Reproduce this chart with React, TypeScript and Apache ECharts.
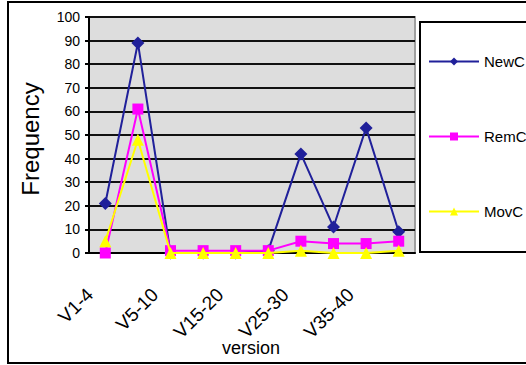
import React, { useEffect, useRef } from "react";
import * as echarts from "echarts";

const categories = ["V1-4", "V4-5", "V5-10", "V10-15", "V15-20", "V20-25", "V25-30", "V30-35", "V35-40", "V40-45"];
const newC = [21, 89, 0, 0, 0, 1, 42, 11, 53, 9];
const remC = [0, 61, 1, 1, 1, 1, 5, 4, 4, 5];
const movC = [5, 48, 0, 0, 0, 0, 1, 0, 0, 1];
const xTitle = "version";
const yTitle = "Frequency";

const FONT = "'Liberation Sans', Arial, sans-serif";

export default function App() {
  const ref = useRef<HTMLDivElement>(null);
  useEffect(() => {
    if (!ref.current) return;
    const chart = echarts.init(ref.current, null, { renderer: "svg" });
    chart.setOption({
      animation: false,
      textStyle: { fontFamily: FONT, color: "#000" },
      graphic: [
        {
          type: "rect",
          shape: { x: 8, y: 2, width: 600, height: 361 },
          style: { fill: "none", stroke: "#000", lineWidth: 2 },
          z: 100,
        },
        {
          type: "rect",
          shape: { x: 420, y: 22, width: 200, height: 230 },
          style: { fill: "#fff", stroke: "#000", lineWidth: 2 },
          z: 0,
        },
        {
          type: "text",
          x: 251,
          y: 348,
          style: {
            text: xTitle,
            fontSize: 18,
            fontFamily: FONT,
            fill: "#000",
            textAlign: "center",
            textVerticalAlign: "middle",
          },
          z: 50,
        },
        {
          type: "text",
          x: 30,
          y: 139,
          rotation: Math.PI / 2,
          style: {
            text: yTitle,
            fontSize: 24,
            fontFamily: FONT,
            fill: "#000",
            textAlign: "center",
            textVerticalAlign: "middle",
          },
          z: 50,
        },
      ],
      legend: {
        orient: "vertical",
        left: 428,
        top: 54,
        padding: 0,
        itemWidth: 50,
        itemHeight: 10,
        itemGap: 60,
        textStyle: { fontSize: 15, color: "#000", fontFamily: FONT },
        data: ["NewC", "RemC", "MovC"],
        z: 10,
      },
      grid: {
        left: 89,
        top: 17,
        right: 111,
        bottom: 112,
        show: true,
        containLabel: false,
        outerBoundsMode: "none",
        backgroundColor: "#DDDDDD",
        borderColor: "#A0A0A0",
        borderWidth: 2,
      },
      xAxis: {
        type: "category",
        data: categories,
        boundaryGap: true,
        axisLine: { lineStyle: { color: "#000", width: 2 } },
        axisTick: { interval: 0, length: 5, lineStyle: { color: "#000", width: 2 } },
        axisLabel: {
          interval: 1,
          rotate: 45,
          fontSize: 19,
          color: "#000",
          margin: 23,
          padding: [0, 22, 0, 0],
          fontFamily: FONT,
        },
        splitLine: { show: false },
      },
      yAxis: {
        type: "value",
        min: 0,
        max: 100,
        interval: 10,
        axisLine: { show: true, lineStyle: { color: "#000", width: 2 } },
        axisTick: { show: true, length: 4, lineStyle: { color: "#000", width: 2 } },
        axisLabel: { fontSize: 14, color: "#000", margin: 9, fontFamily: FONT },
        splitLine: { show: true, lineStyle: { color: "#111", width: 2 } },
      },
      series: [
        {
          name: "NewC",
          type: "line",
          data: newC,
          symbol: "diamond",
          symbolSize: 13,
          itemStyle: { color: "#20209A" },
          lineStyle: { color: "#20209A", width: 2 },
          z: 3,
        },
        {
          name: "RemC",
          type: "line",
          data: remC,
          symbol: "rect",
          symbolSize: 11,
          itemStyle: { color: "#FF00FF" },
          lineStyle: { color: "#FF00FF", width: 2 },
          z: 4,
        },
        {
          name: "MovC",
          type: "line",
          data: movC,
          symbol: "triangle",
          symbolSize: 12,
          itemStyle: { color: "#FFFF00" },
          lineStyle: { color: "#FFFF00", width: 2 },
          z: 5,
        },
      ],
    });
    return () => chart.dispose();
  }, []);
  return <div ref={ref} style={{ width: 526, height: 365, position: "absolute", left: 0, top: 0 }} />;
}
